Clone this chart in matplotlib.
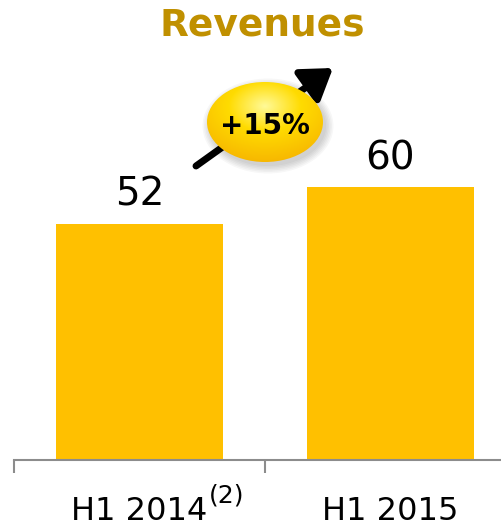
import numpy as np
import matplotlib
matplotlib.use("Agg")
import matplotlib.pyplot as plt
from matplotlib.patches import Ellipse

categories = ["H1 2014", "H1 2015"]
footnotes = ["(2)", ""]
revenues = [52, 60]
growth_label = "+15%"
title = "Revenues"

W, H = 502, 528
fig = plt.figure(figsize=(W / 100, H / 100), dpi=100)

# main bar axes, in pixel terms: left 14, baseline at y=460
ax = fig.add_axes([14 / W, (H - 460) / H, 502 / W, 460 / H])
x = np.arange(len(categories))
ax.bar(x, revenues, width=0.665, color="#FFC000", zorder=2)
for xi, v in zip(x, revenues):
    ax.text(xi, v + 2.2, str(v), ha="center", va="bottom", fontsize=28, color="black")
ax.set_xlim(-0.5, 1.5)
ax.set_ylim(0, 101.2)
for s in ["top", "right", "left"]:
    ax.spines[s].set_visible(False)
ax.spines["bottom"].set_color("#8c8c8c")
ax.spines["bottom"].set_linewidth(1.5)
ax.set_yticks([])
ax.set_xticks([-0.5, 0.5, 1.5])
ax.set_xticklabels([])
ax.tick_params(axis="x", length=9, width=1.5, color="#8c8c8c", direction="out")

# category labels with optional superscript footnote
for xi, cat, fn in zip(x, categories, footnotes):
    lab = ax.annotate(cat, xy=(xi, 0), xycoords=("data", "axes fraction"),
                      xytext=(0, -60), textcoords="offset pixels",
                      ha="center", va="baseline", fontsize=23)
    if fn:
        ax.annotate(fn, xy=(1, 1), xycoords=lab, xytext=(1, -12),
                    textcoords="offset pixels", ha="left", va="bottom", fontsize=18)

# overlay in pixel coords for the decorations
ov = fig.add_axes([0, 0, 1, 1])
ov.axis("off")
ov.patch.set_alpha(0)

ov.text(262, 25, title, ha="center", va="center", fontsize=27,
        fontweight="bold", color="#C09000")

ov.annotate("", xy=(333, 68), xytext=(196, 166),
            arrowprops=dict(arrowstyle="-|>,head_length=0.9,head_width=0.6",
                            lw=5, color="black", mutation_scale=20,
                            shrinkA=0, shrinkB=0),
            zorder=3)

# soft shadow under the bubble
for i in range(6):
    ov.add_patch(Ellipse((268, 126), 116 + i * 3, 80 + i * 3, facecolor="black",
                         alpha=0.03, lw=0, zorder=4))

cx, cy, ew, eh = 265, 122, 116, 80
ell = Ellipse((cx, cy), ew, eh, facecolor="none", lw=0, zorder=5)
ov.add_patch(ell)
gx, gy = np.meshgrid(np.linspace(cx - ew / 2, cx + ew / 2, 200),
                     np.linspace(cy - eh / 2, cy + eh / 2, 200))
r = np.sqrt(((gx - cx) / (ew / 2)) ** 2 + ((gy - (cy - 16)) / (eh / 2)) ** 2)
r = np.clip(r / 1.4, 0, 1)
top = np.array([1.0, 0.98, 0.6])
mid = np.array([1.0, 0.86, 0.0])
bot = np.array([0.97, 0.72, 0.0])
t = r[..., None]
img = np.where(t < 0.45, top * (1 - t / 0.45) + mid * (t / 0.45),
               mid * (1 - (t - 0.45) / 0.55) + bot * ((t - 0.45) / 0.55))
im = ov.imshow(img, extent=(cx - ew / 2, cx + ew / 2, cy + eh / 2, cy - eh / 2),
               zorder=5, interpolation="bilinear")
im.set_clip_path(ell)
ov.set_xlim(0, W)
ov.set_ylim(H, 0)
ov.set_aspect("auto")

ov.text(cx, cy + 4, growth_label, ha="center", va="center", fontsize=20,
        fontweight="bold", color="black", zorder=6)

fig.savefig("out.png", dpi=100)
